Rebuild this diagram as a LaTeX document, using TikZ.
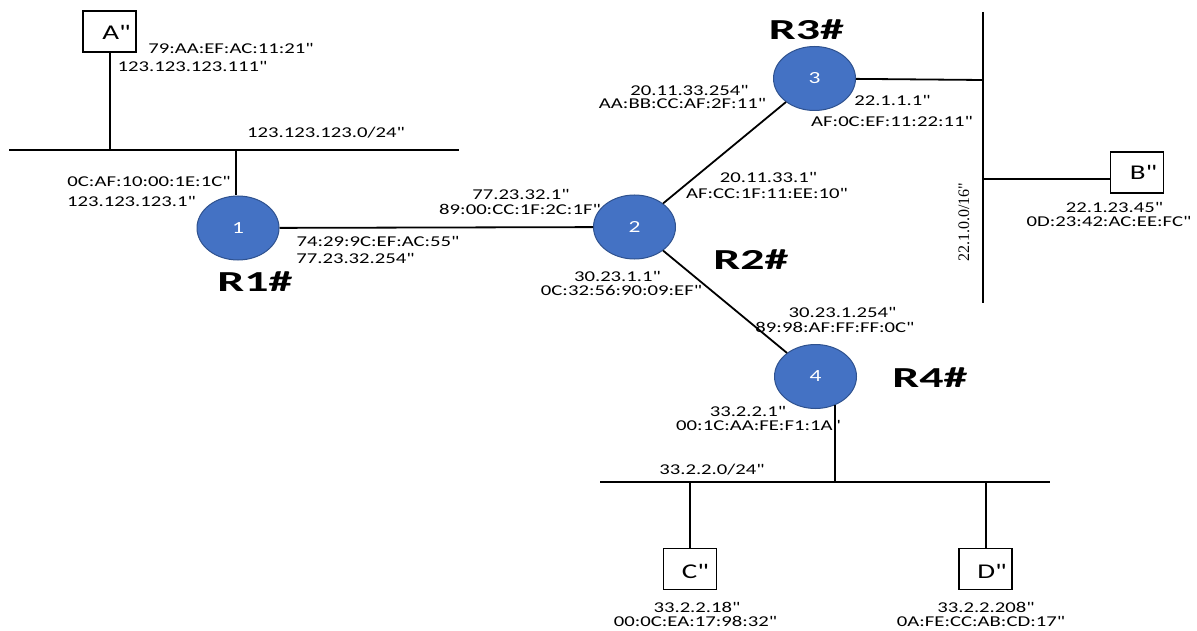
\documentclass[tikz,border=0pt]{standalone}
\usepackage{fontspec}
\usetikzlibrary{shapes.geometric}
\newfontfamily\lblfont[FakeStretch=1.38]{Carlito}
\newfontfamily\rtrfont[FakeStretch=1.65]{Carlito}
\newfontfamily\serlfont{Liberation Serif}
\definecolor{rblue}{HTML}{4472C4}
\definecolor{rborder}{HTML}{2F528F}
\tikzset{
  router/.style={ellipse, fill=rblue, draw=rborder, line width=1pt, minimum width=82pt, minimum height=64pt, inner sep=0pt, text=white, font=\lblfont\fontsize{17}{17}\selectfont},
  host/.style={draw, line width=1.2pt, minimum width=53pt, minimum height=41pt, inner sep=0pt},
  hostlbl/.style={inner sep=0pt, font=\lblfont\fontsize{21}{21}\selectfont},
  addr/.style={inner sep=0pt, font=\lblfont\fontsize{15}{15}\selectfont},
  rname/.style={inner sep=0pt, font=\rtrfont\bfseries\fontsize{29}{29}\selectfont},
  wire/.style={line width=1.8pt},
}
\begin{document}
\begin{tikzpicture}[x=1pt, y=-1pt]
\useasboundingbox (0,0) rectangle (1197,631);
% routers
\node[router] (r1) at (238,228) {1};
\node[router] (r2) at (634.5,227) {2};
\node[router] (r3) at (814.5,78.5) {3};
\node[router] (r4) at (815.5,376.5) {4};
% hosts
\node[host] (A) at (109.5,31.5) {};
\node[host] (B) at (1137,172.5) {};
\node[host] (C) at (690,569) {};
\node[host] (D) at (985.5,569) {};
\node[hostlbl] (Al) at (116.5,32) {A"};
\node[hostlbl] (Bl) at (1143.5,172) {B"};
\node[hostlbl] (Cl) at (695.5,571) {C"};
\node[hostlbl] (Dl) at (992,571) {D"};
% buses
\coordinate (busAl) at (9,150);
\coordinate (busAr) at (459,150);
\coordinate (bus3t) at (983,12);
\coordinate (bus3b) at (983,303);
\coordinate (busCl) at (600,482);
\coordinate (busCr) at (1050,482);
\draw[wire] (busAl) -- (busAr);
\draw[wire] (bus3t) -- (bus3b);
\draw[wire] (busCl) -- (busCr);
% taps
\coordinate (tapA) at (110,150);
\coordinate (tap1) at (236,150);
\coordinate (tap3) at (983,80);
\coordinate (tapB) at (983,179);
\coordinate (tap4) at (835,482);
\coordinate (tapC) at (690,482);
\coordinate (tapD) at (986,482);
\draw[wire] (A.south -| tapA) -- (tapA);
\draw[wire] (tap1) -- (tap1 |- r1.north);
\draw[wire] (r1) -- (r2);
\draw[wire] (r2) -- (r3);
\draw[wire] (r2) -- (r4);
\draw[wire] (r3) -- (tap3);
\draw[wire] (tapB) -- (tapB -| B.west);
\draw[wire] (tap4) -- ([yshift=4pt]tap4 |- r4.south);
\draw[wire] (tapC) -- (C.north);
\draw[wire] (tapD) -- (D.north -| tapD);
% router names
\node[rname] (n1) at (255,282) {R1\#};
\node[rname] (n2) at (751,260) {R2\#};
\node[rname] (n3) at (806.5,30) {R3\#};
\node[rname] (n4) at (930,378) {R4\#};
% addresses
\node[addr] (t1) at (231,48) {79:AA:EF:AC:11:21"};
\node[addr] (t2) at (192.5,66) {123.123.123.111"};
\node[addr] (t3) at (326,133) {123.123.123.0/24"};
\node[addr] (t4) at (149,181) {0C:AF:10:00:1E:1C"};
\node[addr] (t5) at (131.5,201) {123.123.123.1"};
\node[addr] (t6) at (378,241) {74:29:9C:EF:AC:55"};
\node[addr] (t7) at (355.5,258) {77.23.32.254"};
\node[addr] (t8) at (521,194) {77.23.32.1"};
\node[addr] (t9) at (520,209) {89:00:CC:1F:2C:1F"};
\node[addr] (t10) at (689.5,90) {20.11.33.254"};
\node[addr] (t11) at (682.5,103) {AA:BB:CC:AF:2F:11"};
\node[addr] (t12) at (768.5,177) {20.11.33.1"};
\node[addr] (t13) at (767,193) {AF:CC:1F:11:EE:10"};
\node[addr] (t14) at (617.5,276) {30.23.1.1"};
\node[addr] (t15) at (621.5,290) {0C:32:56:90:09:EF"};
\node[addr] (t16) at (892.5,100) {22.1.1.1"};
\node[addr] (t17) at (892,121) {AF:0C:EF:11:22:11"};
\node[addr] (t18) at (1114.5,207) {22.1.23.45"};
\node[addr] (t19) at (1109,221) {0D:23:42:AC:EE:FC"};
\node[inner sep=0pt, rotate=90, font=\serlfont\fontsize{16}{16}\selectfont] (t20) at (964,222) {22.1.0.0/16"};
\node[addr] (t21) at (842.5,312) {30.23.1.254"};
\node[addr] (t22) at (835,327) {89:98:AF:FF:FF:0C"};
\node[addr] (t23) at (748,411) {33.2.2.1"};
\node[addr] (t24) at (758.5,425) {00:1C:AA:FE:F1:1A"};
\node[addr] (t25) at (712,470) {33.2.2.0/24"};
\node[addr] (t26) at (697,607) {33.2.2.18"};
\node[addr] (t27) at (695.5,621) {00:0C:EA:17:98:32"};
\node[addr] (t28) at (986,607) {33.2.2.208"};
\node[addr] (t29) at (981,621) {0A:FE:CC:AB:CD:17"};
\end{tikzpicture}
\end{document}
